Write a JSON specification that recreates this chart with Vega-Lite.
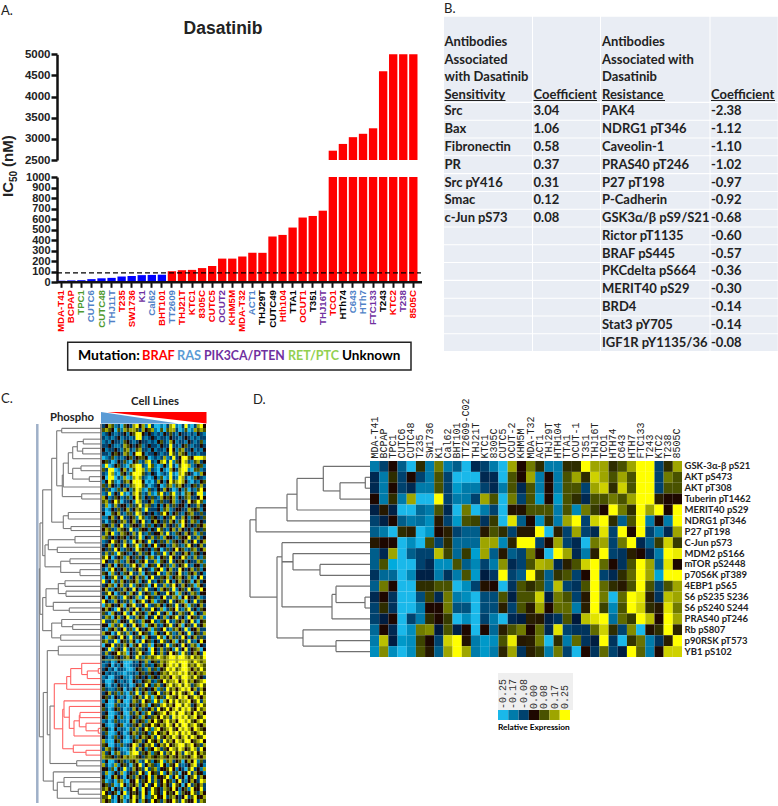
{"$schema":"https://vega.github.io/schema/vega-lite/v6.json","width":778,"height":806,"autosize":"none","padding":0,"background":"white","config":{"view":{"stroke":null},"axis":{"disable":true,"grid":false,"title":null},"legend":{"disable":true},"text":{"font":"Lato","fontSize":13,"fontWeight":"bold","color":"#222222"}},"resolve":{"scale":{"x":"independent","y":"independent","color":"independent"},"axis":{"x":"independent","y":"independent"}},
"data":{"values":[{}]},
"datasets":{
"bars":[{"line":"MDA-T41","mut":"BRAF","ic50":15},{"line":"BCPAP","mut":"BRAF","ic50":18},{"line":"TPC1","mut":"RET/PTC","ic50":20},{"line":"CUTC6","mut":"RAS","ic50":30},{"line":"CUTC48","mut":"RET/PTC","ic50":38},{"line":"THJ11T","mut":"RAS","ic50":42},{"line":"T235","mut":"BRAF","ic50":55},{"line":"SW1736","mut":"BRAF","ic50":60},{"line":"K1","mut":"PIK3CA/PTEN","ic50":68},{"line":"Cal62","mut":"RAS","ic50":70},{"line":"BHT101","mut":"BRAF","ic50":72},{"line":"TT2609","mut":"RAS","ic50":105},{"line":"THJ21T","mut":"BRAF","ic50":115},{"line":"KTC1","mut":"BRAF","ic50":118},{"line":"8305C","mut":"BRAF","ic50":135},{"line":"CUTC5","mut":"BRAF","ic50":155},{"line":"OCUT2","mut":"PIK3CA/PTEN","ic50":225},{"line":"KHM5M","mut":"BRAF","ic50":225},{"line":"MDA-T32","mut":"BRAF","ic50":245},{"line":"ACT1","mut":"RAS","ic50":280},{"line":"THJ29T","mut":"Unknown","ic50":280},{"line":"CUTC49","mut":"Unknown","ic50":435},{"line":"Hth104","mut":"BRAF","ic50":450},{"line":"TTA1","mut":"Unknown","ic50":520},{"line":"OCUT1","mut":"BRAF","ic50":615},{"line":"T351","mut":"Unknown","ic50":630},{"line":"THJ16T","mut":"PIK3CA/PTEN","ic50":680},{"line":"TCO1","mut":"BRAF","ic50":2720},{"line":"HTh74","mut":"Unknown","ic50":2880},{"line":"C643","mut":"RAS","ic50":3040},{"line":"HTh7","mut":"RAS","ic50":3120},{"line":"FTC133","mut":"PIK3CA/PTEN","ic50":3250},{"line":"T243","mut":"Unknown","ic50":4600},{"line":"KTC2","mut":"BRAF","ic50":5000},{"line":"T238","mut":"PIK3CA/PTEN","ic50":5000},{"line":"8505C","mut":"BRAF","ic50":5000}],
"table":[{"row":1,"sens":"Src","scoef":"3.04","res":"PAK4","rcoef":"-2.38"},{"row":2,"sens":"Bax","scoef":"1.06","res":"NDRG1 pT346","rcoef":"-1.12"},{"row":3,"sens":"Fibronectin","scoef":"0.58","res":"Caveolin-1","rcoef":"-1.10"},{"row":4,"sens":"PR","scoef":"0.37","res":"PRAS40 pT246","rcoef":"-1.02"},{"row":5,"sens":"Src pY416","scoef":"0.31","res":"P27 pT198","rcoef":"-0.97"},{"row":6,"sens":"Smac","scoef":"0.12","res":"P-Cadherin","rcoef":"-0.92"},{"row":7,"sens":"c-Jun pS73","scoef":"0.08","res":"GSK3α/β pS9/S21","rcoef":"-0.68"},{"row":8,"sens":"","scoef":"","res":"Rictor pT1135","rcoef":"-0.60"},{"row":9,"sens":"","scoef":"","res":"BRAF pS445","rcoef":"-0.57"},{"row":10,"sens":"","scoef":"","res":"PKCdelta pS664","rcoef":"-0.36"},{"row":11,"sens":"","scoef":"","res":"MERIT40 pS29","rcoef":"-0.30"},{"row":12,"sens":"","scoef":"","res":"BRD4","rcoef":"-0.14"},{"row":13,"sens":"","scoef":"","res":"Stat3 pY705","rcoef":"-0.14"},{"row":14,"sens":"","scoef":"","res":"IGF1R pY1135/36","rcoef":"-0.08"}],
"nodesD":[{"d":4.7,"a":1.5,"b":2.5,"l":0,"r":0},{"d":30,"a":2,"b":3.5,"l":4.7,"r":0},{"d":46.7,"a":0.5,"b":2.75,"l":0,"r":30},{"d":73,"a":1.6,"b":4.5,"l":46.7,"r":0},{"d":83,"a":3.05,"b":5.5,"l":73,"r":0},{"d":114,"a":4.3,"b":6.5,"l":83,"r":0},{"d":50,"a":9.5,"b":10.5,"l":0,"r":0},{"d":77,"a":8.5,"b":10,"l":0,"r":50},{"d":5,"a":12.5,"b":13.5,"l":0,"r":0},{"d":34,"a":11.5,"b":13,"l":0,"r":5},{"d":38,"a":12.25,"b":14.5,"l":34,"r":0},{"d":88,"a":7.5,"b":13.4,"l":0,"r":38},{"d":88,"a":9.25,"b":9.25,"l":77,"r":77},{"d":34,"a":16.5,"b":17.5,"l":0,"r":0},{"d":67,"a":15.5,"b":17,"l":0,"r":34},{"d":93,"a":8.8,"b":16.25,"l":88,"r":67},{"d":120,"a":5.4,"b":12.5,"l":114,"r":93}],
"nodesC":[{"d":39.3,"a":1.1,"b":2.2,"l":0,"r":0,"k":"g"},{"d":17.7,"a":3.8,"b":5,"l":0,"r":0,"k":"g"},{"d":18.3,"a":6.1,"b":7.5,"l":0,"r":0,"k":"g"},{"d":23.7,"a":4.4,"b":6.8,"l":17.7,"r":18.3,"k":"g"},{"d":28.3,"a":5.7,"b":8.7,"l":23.7,"r":0,"k":"g"},{"d":20,"a":10.5,"b":11.7,"l":0,"r":0,"k":"g"},{"d":11.7,"a":13.2,"b":14.4,"l":0,"r":0,"k":"g"},{"d":28.3,"a":11.1,"b":13.8,"l":20,"r":11.7,"k":"g"},{"d":32.7,"a":7.2,"b":12.4,"l":28.3,"r":28.3,"k":"g"},{"d":37.7,"a":9.8,"b":15.8,"l":32.7,"r":0,"k":"g"},{"d":19.3,"a":17.5,"b":18.8,"l":0,"r":0,"k":"g"},{"d":38.7,"a":12.8,"b":18.2,"l":37.7,"r":19.3,"k":"g"},{"d":44.3,"a":1.7,"b":15.5,"l":39.3,"r":38.7,"k":"g"},{"d":32.7,"a":22.2,"b":23.8,"l":0,"r":0,"k":"g"},{"d":30,"a":25.7,"b":26.7,"l":0,"r":0,"k":"g"},{"d":37.7,"a":23,"b":26.2,"l":32.7,"r":30,"k":"g"},{"d":49.3,"a":8.6,"b":24.6,"l":44.3,"r":37.7,"k":"g"},{"d":26,"a":28.2,"b":29.8,"l":0,"r":0,"k":"g"},{"d":43.7,"a":30.9,"b":32.2,"l":0,"r":0,"k":"g"},{"d":52.7,"a":29,"b":31.5,"l":26,"r":43.7,"k":"g"},{"d":31,"a":33.8,"b":35,"l":0,"r":0,"k":"g"},{"d":21,"a":36.5,"b":38,"l":0,"r":0,"k":"g"},{"d":40.3,"a":34.4,"b":37.2,"l":31,"r":21,"k":"g"},{"d":56,"a":30.3,"b":35.8,"l":52.7,"r":40.3,"k":"g"},{"d":58.3,"a":16.5,"b":33,"l":49.3,"r":56,"k":"g"},{"d":36,"a":39.3,"b":40.7,"l":0,"r":0,"k":"g"},{"d":35,"a":41.9,"b":43.2,"l":0,"r":0,"k":"g"},{"d":42.7,"a":40,"b":42.5,"l":36,"r":35,"k":"g"},{"d":31.7,"a":46.1,"b":47.2,"l":0,"r":0,"k":"g"},{"d":47.7,"a":44.7,"b":46.7,"l":0,"r":31.7,"k":"g"},{"d":55,"a":41.3,"b":45.7,"l":42.7,"r":47.7,"k":"g"},{"d":28.3,"a":50.3,"b":51.5,"l":0,"r":0,"k":"g"},{"d":39.3,"a":49,"b":50.8,"l":0,"r":28.3,"k":"g"},{"d":40.3,"a":52.9,"b":54.2,"l":0,"r":0,"k":"g"},{"d":49.3,"a":49.9,"b":53.6,"l":39.3,"r":40.3,"k":"g"},{"d":58.3,"a":43.5,"b":51.8,"l":55,"r":49.3,"k":"g"},{"d":61,"a":24.8,"b":47.7,"l":58.3,"r":58.3,"k":"g"},{"d":42.7,"a":55.7,"b":57.9,"l":0,"r":0,"k":"g"},{"d":2.7,"a":61.3,"b":62.5,"l":0,"r":0,"k":"r"},{"d":13.7,"a":61.9,"b":63.8,"l":2.7,"r":0,"k":"r"},{"d":19.3,"a":60,"b":62.8,"l":0,"r":13.7,"k":"r"},{"d":30.3,"a":61.3,"b":65.3,"l":19.3,"r":0,"k":"r"},{"d":34.3,"a":63.3,"b":66.5,"l":30.3,"r":0,"k":"r"},{"d":21,"a":72.3,"b":73.6,"l":0,"r":0,"k":"r"},{"d":2.7,"a":76.3,"b":77.5,"l":0,"r":0,"k":"r"},{"d":15,"a":75,"b":76.9,"l":0,"r":2.7,"k":"r"},{"d":21.7,"a":73,"b":75.9,"l":21,"r":15,"k":"r"},{"d":27,"a":74.4,"b":78.2,"l":21.7,"r":0,"k":"r"},{"d":31.7,"a":70.8,"b":76.3,"l":0,"r":27,"k":"r"},{"d":37,"a":69.4,"b":73.5,"l":0,"r":31.7,"k":"r"},{"d":15,"a":81.8,"b":83,"l":0,"r":0,"k":"r"},{"d":27.7,"a":80.5,"b":82.3,"l":0,"r":15,"k":"r"},{"d":38.3,"a":71.5,"b":81.4,"l":37,"r":27.7,"k":"r"},{"d":46.7,"a":65.1,"b":76.4,"l":34.3,"r":38.3,"k":"r"},{"d":24.3,"a":84.4,"b":85.7,"l":0,"r":0,"k":"g"},{"d":51,"a":70.7,"b":85.1,"l":46.7,"r":24.3,"k":"g"},{"d":53.7,"a":56.8,"b":77.9,"l":42.7,"r":51,"k":"g"},{"d":22.7,"a":91.5,"b":92.8,"l":0,"r":0,"k":"g"},{"d":30.3,"a":89.7,"b":92.1,"l":0,"r":22.7,"k":"g"},{"d":37,"a":88.6,"b":90.9,"l":0,"r":30.3,"k":"g"},{"d":43.7,"a":89.8,"b":93.8,"l":37,"r":0,"k":"g"},{"d":47.7,"a":87.2,"b":91.8,"l":0,"r":43.7,"k":"g"},{"d":57.7,"a":67.3,"b":89.5,"l":53.7,"r":47.7,"k":"g"},{"d":61.7,"a":36.3,"b":78.4,"l":61,"r":57.7,"k":"g"}],
"heatD":[
{"r":"GSK-3α-β pS21","v":[-2,-1,0,-1.5,-3,0.5,-2,1.5,-2,-1.5,-3,-0.5,-1,-2,-3,2,0,1.5,0.5,-2,-2,0.5,0.5,3,2,2,0.5,1,2,3,3,-1,0.5,2]},
{"r":"AKT pS473","v":[-0.5,-2,0.5,-1,0,-1,-2,1,-1,-3,-3,-3,-0.5,-0.5,-3,1,0,2,-2,0,-2,1,2,0.5,2.5,2,1,2,1,3,3,-1,1.5,1]},
{"r":"AKT pT308","v":[-0.5,-2,0,-1,-0.5,-2,-2,1,-1,-2.5,-2,-2,-1,-0.5,-2,1,-0.5,1,-2,0,-2,1,1,-1,2,2.5,0.5,2.5,1,3,3,-1,1,1]},
{"r":"Tuberin pT1462","v":[0,-2,0.5,-2,2,-3,-3,3,-1,-2,-2,-1,2,1,-3,1.5,-1,1,-2.5,0,-2.5,1,0.5,-0.5,1,1,1.5,1,2,3,3,0.3,0,0]},
{"r":"MERIT40 pS29","v":[-0.3,0.2,-0.3,-3,-3,-1.7,-2,1,-0.5,-3,1.5,-3,-2,-1,-3,0.1,0.1,1,1,1,-2,1,-2.2,1.5,0.7,0,3,1.5,0.5,3,2,3,0,3]},
{"r":"NDRG1 pT346","v":[-1,-0.3,0,-1.5,-2,-1.8,-2.3,0.2,-1,-2.5,1,0.8,-0.7,0.7,-3,2.7,-1.5,0,-2.3,0.5,-2,2,3,-1,2.5,3,0.5,-1.5,1,3,-2,0,-2,3]},
{"r":"P27 pT198","v":[-1.5,-2,-3,0.5,0.3,-3,-2.5,0,0.3,-1,-1.5,-1.5,0.2,1,0.5,-1,0.2,0.2,3,-3,0.3,-1,2,-1,-0.5,2.7,-1,3,0,3,-1,-2,-0.5,2]},
{"r":"C-Jun pS73","v":[0.2,0,0,-3,-2.3,-3,0.9,-1,0.5,-1.7,-1.7,-1.7,2,2,-2.2,0.4,3,3,-1,0,2,-1,-0.5,-3,1.5,2,-1,1.5,3,-0.5,-1.5,0.7,2.5,0.7]},
{"r":"MDM2 pS166","v":[-1.5,-0.5,2,-3,-1.5,-1,-1,2.3,0.8,-1.7,0.7,-2.6,2,-1.5,0.2,-1.5,-1,1.5,0,-3,3,2,-0.5,-2,0.3,3,-1,-0.7,0.3,0,-0.5,-2,3,2.8]},
{"r":"mTOR pS2448","v":[-1.5,1,-2.8,-3,-3,-1,-0.5,-2.3,-2.3,1,-1.5,-2.2,-1,-2,1.8,-0.5,-1,1,2.2,2,-0.5,0.3,1,2.5,3,1.3,0,-0.7,1,3,2,-1.5,2.7,0]},
{"r":"p70S6K pT389","v":[-0.7,-1.7,-1.7,-3,-2.2,-0.3,-0.3,-2,-0.7,-2,1,-2.5,-0.2,-0.8,3,-1,-1.5,3,0.8,-1.5,0.6,1,-1,0,3,-1,-0.5,0.5,1.3,3,2,-2.7,3,3]},
{"r":"4EBP1 pS65","v":[-1.5,1.5,0,-3,-3,0.5,0.5,1,1,-3,-2.3,-1,0.1,0,-3,-0.7,1,0.5,1,-1.5,2.3,-1,-0.7,1,3,1.3,0.5,0.2,1,3,1,-1,1,2]},
{"r":"S6 pS235 S236","v":[-0.5,0,-0.7,-3,-3,-1.2,0.8,-0.5,1.5,-2,-2.3,-3,-1.2,-1.2,1,-0.3,1,1,2.5,-0.2,1.5,1,-1,0.2,3,1.5,-3,1.3,3,2.7,0.3,-0.7,2.3,2]},
{"r":"S6 pS240 S244","v":[-1,0.5,-0.7,-3,-3,-2,0,0,1.5,-1.3,-1.3,-3,-1.2,-1.2,0.3,-1,1,0.2,2,0,1.3,1.3,-2,0.3,3,0.8,-2.2,1,3,2.5,0.5,0.2,2.7,1.5]},
{"r":"PRAS40 pT246","v":[-1,-0.2,0,-3,-1,-2,0.5,0,0.7,-3,-2.3,-3,-1,-2,-3,-0.5,-0.2,0.3,0.2,-0.3,-0.7,1,-0.1,2.3,2.7,3,-1.8,1.3,0.7,3,2.3,0,3,2]},
{"r":"Rb pS807","v":[-1.7,0,-0.5,-3,-2.3,1.5,1.7,-0.1,1,-0.3,0,-3,0,-1.7,0.3,1,1.5,0,1.3,-0.5,2.7,-1,-0.7,-0.7,1.3,2.5,0.5,-1,1.7,-3,0.1,0.5,3,0.4]},
{"r":"p90RSK pT573","v":[-2,2.3,-0.2,-2.5,-2.3,0.8,0,-1,2.5,3,0.1,-2,-2.5,-2.3,1,2.8,0.2,0.3,1.5,-3,0.5,-2,1.3,-0.7,-0.2,3,-0.7,-3,0.6,1.4,-2,-0.7,0.3,3]},
{"r":"YB1 pS102","v":[-2.3,1.7,-2.3,-3,-2.3,1,0.2,-1.5,2,3,2,-2,-2.5,-2,0.4,2,-0.7,0.3,0.7,-2,1.5,-1,-3,0,-0.7,1.3,-1,-0.2,3,1.2,-2,0,2.5,2.5]}],
"heatC":[
{"r":1,"v":[-1,0,2,1,-2,-1,-3,1,0,-1,2,3,0,2,-2,3,-1,-3,-3,-2,-3,-1,2,3,-2,-3,-1,3,-2,-3,-1,2,3,0]},
{"r":2,"v":[1,2,1,0,-3,1,-2,2,1,2,2,1,-1,2,0,1,2,-2,-3,1,-3,1,2,2,-1,-3,-2,1,-3,-2,2,1,2,1]},
{"r":3,"v":[-2,-1,0,-1,-2,-1,-1,0,-2,0,1,3,3,0,-1,0,-1,-2,-1,-2,0,-1,1,-1,-2,0,-1,-1,-2,-1,-2,0,-1,-2]},
{"r":4,"v":[-1,-2,-1,-2,-1,0,-2,-1,-1,-2,-1,3,3,-1,-2,-1,0,-1,-2,-1,-1,-2,0,-1,-1,-2,-1,0,-1,-2,-1,-2,-1,-1]},
{"r":5,"v":[-2,-1,-2,0,-1,-1,-2,1,0,-1,-2,-1,0,-1,-1,-2,-1,-2,0,1,-1,-2,2,0,-2,-1,-1,-2,0,-1,-2,-1,1,-2]},
{"r":6,"v":[-1,-1,0,-1,-2,-2,-1,2,1,0,-1,0,1,-2,-1,0,-1,-1,-2,0,-1,-1,3,-1,-1,-2,0,1,-1,-2,-1,-1,0,-1]},
{"r":7,"v":[0,-2,-1,-1,0,-1,-2,1,2,-1,-2,1,2,-1,-1,-2,0,-2,-1,-1,-2,0,3,0,-2,1,2,-1,-1,0,-2,-1,-2,0]},
{"r":8,"v":[-1,-1,-2,0,1,0,-1,2,1,-2,0,3,3,0,-2,-1,-1,0,-1,-2,-1,-1,3,1,-1,2,1,0,-2,-1,-1,-2,-1,-1]},
{"r":9,"v":[-3,-2,-1,1,-2,-1,-2,-1,0,1,-1,0,1,1,0,-3,-2,-1,-2,-1,2,-2,-1,3,-1,0,3,3,1,0,3,3,3,2]},
{"r":10,"v":[0,1,-1,-3,-2,0,-1,1,-2,-3,0,1,-2,-1,2,3,-1,-2,0,2,3,-1,3,-2,1,0,3,2,-1,-2,1,2,-1,0]},
{"r":11,"v":[-2,3,-3,-2,0,1,-1,-2,-3,1,2,3,3,-1,-2,3,1,-2,-3,-2,0,-2,3,-1,-3,1,3,3,2,-2,-1,0,1,-2]},
{"r":12,"v":[1,-1,3,3,-3,-2,0,2,-1,-3,1,3,3,2,-2,2,-1,-2,-3,0,-2,-3,2,0,-1,2,3,3,-2,-3,1,1,-2,-1]},
{"r":13,"v":[-1,-2,3,2,-2,-3,1,0,-2,1,3,3,3,1,-1,-2,0,-1,-3,-2,-1,-2,3,-2,-3,2,3,1,0,-1,-3,-2,2,0]},
{"r":14,"v":[0,-3,3,3,-3,-1,-2,2,-3,-2,2,3,2,-1,-2,-3,-2,0,-2,1,-3,-2,3,-1,-2,3,2,-1,-3,-2,1,0,-1,-2]},
{"r":15,"v":[-2,0,3,1,-2,-3,-1,1,2,0,3,3,3,0,-3,-2,-3,-1,2,0,-2,0,3,1,2,3,2,0,-2,-3,-1,-2,0,1]},
{"r":16,"v":[1,-1,2,0,-1,-2,0,-1,-2,1,2,3,3,1,-1,-3,-2,-1,0,-3,-2,1,2,-2,1,2,0,-1,-2,0,1,-1,2,-1]},
{"r":17,"v":[-1,1,-1,-3,-2,1,-1,2,0,-2,1,3,2,-2,-3,1,-1,-2,0,-1,2,0,-1,-3,-2,0,-2,1,-3,-1,-2,1,3,0]},
{"r":18,"v":[-2,-1,3,-2,0,-1,3,-2,-3,-1,2,3,1,-2,-1,2,-2,-3,1,3,-1,-2,1,3,-2,-1,-3,1,2,0,-1,3,3,-2]},
{"r":19,"v":[2,0,-2,-1,1,0,-2,-1,1,-2,0,3,1,-2,0,-1,1,-1,-2,2,0,1,0,2,-2,0,-1,1,2,-1,-1,0,3,0]},
{"r":20,"v":[1,2,-1,0,3,1,-3,-1,-1,0,-2,3,2,-1,-1,0,2,-2,-1,1,-1,-1,0,2,-2,-1,0,-1,3,0,1,3,1,-2]},
{"r":21,"v":[-1,2,-3,-1,2,-1,0,0,-2,1,-1,1,3,-1,2,1,-1,-2,0,-2,0,2,-1,1,-1,0,0,-2,0,-1,-1,2,-1,0]},
{"r":22,"v":[-1,-3,-2,0,-1,1,-1,0,2,-1,0,2,1,-2,3,-1,-1,-1,0,-2,1,2,-2,-1,0,0,-1,-1,2,1,0,1,-2,0]},
{"r":23,"v":[0,-3,-3,1,0,2,-1,-2,1,1,-1,3,2,-1,0,-1,0,-2,-1,1,3,0,-2,0,1,-1,-2,0,1,2,-1,-1,1,-1]},
{"r":24,"v":[-2,-2,0,2,-1,0,3,-1,-1,0,1,-2,3,1,-2,-1,1,0,-1,-2,0,-1,1,3,-1,-1,2,0,-2,1,0,0,-1,1]},
{"r":25,"v":[-1,-3,-1,1,0,-1,1,2,-1,0,2,-1,0,3,-1,-2,0,2,0,-1,1,-1,2,0,-2,1,3,0,-1,2,1,-2,0,-1]},
{"r":26,"v":[1,0,-1,2,-1,0,3,-1,-2,1,0,0,-1,2,-1,1,-2,0,-1,0,2,-1,0,-1,1,-2,3,0,-1,0,-1,1,0,2]},
{"r":27,"v":[0,2,1,-1,-2,2,1,0,-1,3,-1,-2,1,0,0,-2,0,-1,3,1,-1,-2,0,2,-1,2,0,-1,0,-2,1,0,-1,1]},
{"r":28,"v":[-1,2,0,3,-2,-1,2,1,0,-1,2,-1,3,-1,-2,1,-1,0,0,2,-1,3,-1,-2,1,0,-1,2,0,-1,2,-2,1,-1]},
{"r":29,"v":[2,1,-1,0,-1,0,1,0,-2,0,1,-1,3,-2,0,-1,2,-1,1,-2,2,0,0,-1,-2,1,0,0,3,-1,-1,2,-1,0]},
{"r":30,"v":[-2,-1,0,3,1,0,-1,2,-1,-2,3,0,2,0,-1,3,-2,0,-1,1,-1,2,-2,1,0,-1,0,2,-1,0,3,-1,0,2]},
{"r":31,"v":[-1,0,2,-2,0,1,-1,3,0,-1,1,3,-2,1,0,-2,0,3,-1,0,0,-2,-1,2,1,-1,-2,1,3,0,-1,0,2,-1]},
{"r":32,"v":[0,-1,1,-1,3,0,-2,-1,1,0,-1,3,1,0,-1,0,-2,1,0,-3,-1,1,-1,0,3,0,1,-2,-1,1,2,-1,0,2]},
{"r":33,"v":[-1,2,-1,1,-2,3,1,0,-1,-2,0,-1,2,-1,1,0,-3,-1,1,-1,3,-2,0,2,-1,-1,0,2,0,-2,1,0,-1,0]},
{"r":34,"v":[1,3,0,-3,-1,0,1,-2,2,0,-1,1,-1,0,-3,1,2,-1,-3,0,1,-1,3,0,-1,0,3,1,-2,-1,2,-1,-2,1]},
{"r":35,"v":[3,0,-1,-1,2,1,-2,-1,2,0,0,-2,1,0,3,-1,-1,2,-3,1,0,-1,3,-1,0,1,0,-2,0,-1,-1,2,1,-2]},
{"r":36,"v":[0,-1,2,0,-3,0,1,-1,-2,1,3,0,-1,2,-3,0,1,-1,3,0,-1,1,-2,2,-1,0,1,3,-1,-2,0,0,-2,1]},
{"r":37,"v":[-1,-3,1,3,0,-1,0,2,-1,-2,1,0,3,-1,0,-1,-3,1,0,3,-2,0,2,-1,-1,3,0,-1,0,2,-1,1,-2,0]},
{"r":38,"v":[1,0,-3,2,-1,0,-2,1,0,3,-1,-1,2,-3,0,1,-1,0,3,-1,-2,2,1,-1,0,3,-1,-2,1,0,2,-1,0,-2]},
{"r":39,"v":[-3,0,-1,1,3,-1,0,-3,2,-1,0,2,-1,1,-3,0,3,-1,-1,1,0,2,-2,0,1,2,0,-1,2,-1,-3,0,3,-1]},
{"r":40,"v":[3,-1,0,-3,1,-1,2,0,-1,1,0,2,-2,0,-1,3,-1,-2,0,1,-1,3,0,-2,0,2,-1,0,1,-3,0,2,-1,0]},
{"r":41,"v":[-1,0,2,1,-3,0,2,-1,-1,3,-2,1,0,-1,1,-3,0,3,-1,-1,2,-2,1,3,0,-1,2,0,-1,1,-3,2,0,-1]},
{"r":42,"v":[0,2,-1,-2,0,1,-1,2,0,-1,3,0,-2,1,3,-1,-1,0,-2,2,0,1,-1,3,-2,0,1,-1,3,0,-1,-2,3,0]},
{"r":43,"v":[-1,1,3,0,-3,-1,1,0,-2,2,0,-1,3,-1,0,1,-2,2,0,-1,-1,3,0,1,-3,2,-1,0,-1,2,1,-2,0,0]},
{"r":44,"v":[0,-3,0,2,1,-1,-2,3,1,0,-1,2,-3,-1,3,0,1,-1,-2,0,3,-1,-1,2,1,-3,0,3,0,-1,0,2,-2,-1]},
{"r":45,"v":[3,0,-1,-2,2,0,-1,1,-1,2,-3,0,1,3,-1,0,2,-3,-1,1,0,-1,3,-1,0,1,2,-3,0,-1,3,-1,1,0]},
{"r":46,"v":[-3,1,2,0,-1,0,2,-3,0,1,3,-1,-1,0,3,-2,-1,1,2,0,-2,0,1,-1,3,-1,0,2,-3,1,-1,0,2,-1]},
{"r":47,"v":[0,2,0,-1,-3,3,0,-1,2,-1,0,3,0,-2,1,-1,3,0,-1,2,-3,-1,1,0,3,-1,-2,1,3,-1,0,-2,1,0]},
{"r":48,"v":[1,-1,-3,2,0,-1,0,3,-2,0,3,-1,1,0,-2,2,0,-1,3,-1,0,2,-3,0,-1,2,1,-1,0,3,-2,0,-1,2]},
{"r":49,"v":[-1,2,1,-3,0,2,-1,0,3,-2,-1,2,0,1,-3,0,-1,3,0,-1,2,-2,0,1,3,-1,0,-2,3,0,1,-1,2,-2]},
{"r":50,"v":[3,-1,-1,1,2,-2,0,0,-1,3,1,-1,-2,2,0,0,3,-1,-2,1,0,3,-1,-2,1,0,2,-1,0,3,-1,-3,0,1]},
{"r":51,"v":[0,0,-3,2,-1,1,3,-2,0,-1,3,0,-1,2,-3,1,0,2,-1,-2,0,1,3,-1,0,2,-3,0,1,-1,3,-1,0,2]},
{"r":52,"v":[-1,-3,1,0,2,-1,0,3,-1,1,-2,3,0,-1,0,2,-3,1,-1,0,3,-1,-2,1,2,0,-1,3,-2,0,0,2,-1,-1]},
{"r":53,"v":[2,0,0,-3,-1,3,1,-1,2,-2,0,-1,3,0,1,-1,-3,2,0,-1,0,3,1,-2,-1,2,0,-1,3,-2,0,1,-1,2]},
{"r":54,"v":[-1,-3,2,1,0,-1,3,0,-2,3,-1,1,0,-3,2,0,-1,-1,3,1,-3,0,2,-1,1,-1,3,0,-2,0,2,-1,1,-1]},
{"r":55,"v":[1,2,-1,-1,3,-3,0,1,-1,2,0,-3,-1,3,0,1,-2,0,-1,3,1,-1,0,2,-3,0,1,-1,3,-1,-2,0,3,0]},
{"r":56,"v":[-3,0,0,3,-1,1,-1,2,0,-3,1,0,3,-1,-1,2,-3,0,1,0,-1,3,-2,1,0,-1,3,0,-1,2,1,-3,0,-1]},
{"r":57,"v":[0,-1,3,-3,1,0,-1,3,-2,0,-1,2,1,-1,0,-3,3,0,-1,2,-1,1,0,-2,3,-1,0,3,-1,0,1,2,-3,0]},
{"r":58,"v":[-1,2,-1,0,0,3,1,2,-3,0,-1,1,3,0,-1,-2,3,0,-1,2,-1,0,3,0,1,-2,3,1,-1,0,2,0,-1,3]},
{"r":59,"v":[0,-1,-2,-1,1,0,-1,1,2,0,-1,3,1,-2,1,2,1,2,3,2,1,2,3,3,2,3,3,2,1,3,1,2,1,3]},
{"r":60,"v":[-1,-2,-1,-3,-2,0,-1,-3,-3,-3,-1,-2,0,-1,2,-2,0,1,-1,2,1,2,3,3,2,3,3,3,2,1,3,2,1,2]},
{"r":61,"v":[-2,-1,0,-3,-1,-2,0,-3,-3,-2,-1,-1,0,-2,1,-1,-2,0,1,2,0,2,3,2,3,1,3,3,1,2,1,3,2,1]},
{"r":62,"v":[-1,0,-2,-1,-3,-1,-1,-2,-3,-3,-2,0,1,-1,-2,2,-1,1,-2,0,1,3,2,3,1,2,3,3,2,0,2,1,3,1]},
{"r":63,"v":[0,-2,-1,-2,-1,-2,-2,-3,-2,-2,-1,-2,0,1,-1,1,0,-1,0,1,2,1,3,2,2,3,2,3,1,2,0,2,1,2]},
{"r":64,"v":[-2,-1,-3,-3,-1,-1,0,-2,-2,-3,-1,1,0,-1,0,-2,1,0,-1,2,1,2,0,3,2,1,3,3,2,1,3,1,0,-1]},
{"r":65,"v":[-1,-3,-3,-2,0,-1,-2,-1,-2,-3,0,-1,-2,0,1,2,-1,-2,1,0,3,1,2,2,3,0,2,3,1,2,0,1,2,3]},
{"r":66,"v":[0,-2,-3,-1,-2,0,-1,-2,-1,-3,-2,0,1,-1,3,0,-2,1,2,-1,0,2,3,1,2,3,1,3,2,-1,1,2,3,1]},
{"r":67,"v":[1,-1,-2,-2,-1,1,0,-3,-1,-2,0,2,-1,1,0,-1,0,2,-2,1,-1,3,1,2,0,2,3,2,3,0,2,-1,2,0]},
{"r":68,"v":[-1,0,2,-1,1,-2,1,-2,-3,1,-1,3,-2,0,2,-2,1,0,3,-1,1,2,0,3,1,3,1,0,2,3,-1,0,3,1]},
{"r":69,"v":[0,1,-1,-3,0,-1,-2,-1,-3,-2,1,0,2,-1,3,1,-3,2,0,1,-1,3,2,1,0,3,2,3,0,1,3,2,0,2]},
{"r":70,"v":[-2,0,-3,-3,-1,2,0,-3,-3,-1,2,1,-1,3,0,1,-2,3,1,-3,2,0,3,1,3,1,2,2,3,0,1,3,-1,2]},
{"r":71,"v":[0,-2,-3,-3,1,-1,-2,-2,-3,0,1,-1,0,2,1,-3,0,1,-1,2,3,1,2,0,3,3,1,3,2,-1,0,2,3,1]},
{"r":72,"v":[1,-1,-3,-2,0,1,-1,-3,-2,-1,2,0,-2,1,-1,0,2,-1,3,0,1,3,0,2,3,1,3,2,3,1,0,3,1,2]},
{"r":73,"v":[-1,0,-3,-3,-2,-1,0,-3,-3,1,-1,2,0,-2,1,3,-1,0,1,2,3,0,2,3,1,3,3,1,2,0,3,1,2,0]},
{"r":74,"v":[0,1,-3,-3,0,-2,1,-2,-3,-1,0,1,-2,2,0,-1,1,2,0,3,1,2,-1,3,2,3,2,3,1,2,3,0,1,3]},
{"r":75,"v":[-2,-1,-3,-2,1,-1,-2,-2,-3,0,2,-1,0,1,-2,2,0,3,1,0,2,3,1,2,0,3,3,2,3,1,0,2,3,1]},
{"r":76,"v":[0,-2,-3,-3,-1,0,1,-3,-2,-1,1,0,2,-1,1,0,3,1,0,2,1,3,2,0,3,1,3,3,1,2,3,1,0,2]},
{"r":77,"v":[1,0,-2,-3,0,-2,-1,-2,-3,1,-1,2,-1,0,3,1,-2,2,3,0,1,2,3,1,0,3,2,3,2,0,3,2,1,0]},
{"r":78,"v":[-1,1,-3,-3,-2,0,-1,-3,-2,0,2,1,-1,1,0,-2,1,3,0,1,2,0,3,2,3,1,3,2,3,1,0,2,3,1]},
{"r":79,"v":[0,-1,-3,-2,1,-1,0,-2,-3,-1,1,-2,0,2,1,0,2,-1,3,1,0,2,1,3,2,0,2,3,1,3,2,0,1,3]},
{"r":80,"v":[2,-2,-3,-3,0,1,-1,-3,-3,-2,0,1,2,-1,0,3,1,0,2,-1,3,1,2,0,3,2,1,3,3,0,1,2,3,0]},
{"r":81,"v":[1,0,-3,-3,-1,-2,1,-2,-1,0,3,2,-1,0,2,1,3,-1,0,2,1,3,0,1,2,3,3,1,2,3,0,1,-1,2]},
{"r":82,"v":[-1,2,1,-2,0,-1,-2,-3,-2,1,3,-1,2,0,-2,1,0,3,2,-1,1,0,3,2,1,3,2,0,1,3,2,-1,3,0]},
{"r":83,"v":[2,-1,0,-3,1,2,-1,-2,-3,2,3,3,-1,1,0,2,-2,1,0,3,-1,2,1,3,0,2,-1,3,2,1,3,0,2,1]},
{"r":84,"v":[2,1,1,0,-1,1,0,2,1,2,2,1,0,-1,1,2,1,0,1,2,1,0,2,1,0,2,1,1,0,2,3,1,0,2]},
{"r":85,"v":[-2,0,-3,-3,-1,0,1,-1,-2,1,0,2,-2,-1,3,1,-2,0,1,3,-2,1,2,-1,0,1,-3,0,2,0,3,-2,1,-1]},
{"r":86,"v":[2,-1,-3,-2,2,-2,0,1,-1,-3,1,0,3,-2,0,2,1,-1,-2,3,0,-2,1,0,3,-1,-2,-1,0,2,3,-1,0,-2]},
{"r":87,"v":[0,0,-2,1,-3,0,-1,3,-2,-1,2,0,1,-1,3,-1,1,2,-2,0,0,1,3,0,-2,0,-1,-3,1,3,-1,0,-2,2]},
{"r":88,"v":[-1,2,-3,-2,0,-1,2,-3,-1,0,1,-1,3,0,-2,3,0,1,-1,3,-2,0,2,-1,1,-3,0,0,3,-1,2,0,0,-2]},
{"r":89,"v":[0,-2,-3,0,2,0,-1,-3,0,1,-1,2,0,-1,0,3,-1,2,0,0,1,3,-2,0,3,-1,0,-3,0,1,3,-1,2,0]},
{"r":90,"v":[1,-3,-2,-1,-3,1,2,-2,-3,0,0,3,-1,1,0,3,-1,2,-1,0,3,0,1,-2,0,3,-1,-2,0,2,0,-1,3,2]},
{"r":91,"v":[0,1,-1,1,-3,-2,3,0,-2,1,0,2,-2,0,3,-1,0,3,-1,0,2,0,-1,3,1,0,-3,0,3,-1,1,0,2,-1]},
{"r":92,"v":[1,2,0,-3,0,-1,1,-3,-1,0,3,0,-2,3,0,-1,3,1,0,-1,2,1,0,3,0,-2,0,1,-2,3,0,0,3,-1]},
{"r":93,"v":[3,0,-1,0,1,-3,0,3,-2,0,1,0,-1,3,0,-2,3,1,0,-1,3,0,1,0,3,-2,1,0,0,3,1,-1,2,0]},
{"r":94,"v":[1,1,3,-1,-3,0,2,-2,-3,0,3,1,-1,3,-1,-2,1,3,0,0,3,-1,1,2,0,-1,0,3,-1,1,3,0,0,2]},
{"r":95,"v":[2,0,1,-2,-3,0,1,-3,-1,1,3,0,-2,2,0,-1,3,0,1,-1,2,0,0,3,1,-1,3,1,0,0,3,-1,2,1]}]
},
"layer":[
{"mark":{"type":"text","text":"A.","x":1,"y":11,"fontWeight":"normal","fontSize":13,"align":"left"},"encoding":{}},
{"mark":{"type":"text","text":"B.","x":444,"y":9,"fontWeight":"normal","fontSize":13,"align":"left"},"encoding":{}},
{"mark":{"type":"text","text":"C.","x":1,"y":399,"fontWeight":"normal","fontSize":13,"align":"left"},"encoding":{}},
{"mark":{"type":"text","text":"D.","x":253,"y":400,"fontWeight":"normal","fontSize":13,"align":"left"},"encoding":{}},
{"mark":{"type":"text","text":"Dasatinib","x":223,"y":29,"font":"Liberation Sans","fontSize":17.5,"align":"center"},"encoding":{}},
{"mark":{"type":"text","text":"IC","x":13,"y":197,"angle":270,"align":"left","baseline":"alphabetic","font":"Liberation Sans","fontSize":15},"encoding":{}},
{"mark":{"type":"text","text":"50","x":16.5,"y":182,"angle":270,"align":"left","baseline":"alphabetic","font":"Liberation Sans","fontSize":10},"encoding":{}},
{"mark":{"type":"text","text":"(nM)","x":13,"y":167,"angle":270,"align":"left","baseline":"alphabetic","font":"Liberation Sans","fontSize":15},"encoding":{}},
{"data":{"name":"bars"},"transform":[{"filter":"datum.ic50>=2500"}],"mark":{"type":"bar","color":"#ff0000"},
"encoding":{"x":{"field":"line","type":"nominal","sort":null,"scale":{"domain":["MDA-T41","BCPAP","TPC1","CUTC6","CUTC48","THJ11T","T235","SW1736","K1","Cal62","BHT101","TT2609","THJ21T","KTC1","8305C","CUTC5","OCUT2","KHM5M","MDA-T32","ACT1","THJ29T","CUTC49","Hth104","TTA1","OCUT1","T351","THJ16T","TCO1","HTh74","C643","HTh7","FTC133","T243","KTC2","T238","8505C"],"type":"band","range":[55.6,419],"paddingInner":0.17,"paddingOuter":0.15}},
"y":{"field":"ic50","type":"quantitative","scale":{"domain":[2500,5000],"range":[160,54.3],"clamp":true,"nice":false,"zero":false},"axis":{"disable":false,"orient":"left","offset":-57,"values":[2500,3000,3500,4000,4500,5000],"domainWidth":2.5,"domainColor":"#111111","tickWidth":2.5,"tickColor":"#111111","tickSize":6,"labelFont":"Liberation Sans","labelFontWeight":"bold","labelFontSize":11.5,"labelColor":"#222222","labelPadding":1,"format":"d"}}}},
{"data":{"name":"bars"},"mark":{"type":"bar"},"encoding":{"x":{"field":"line","type":"nominal","sort":null,"scale":{"domain":["MDA-T41","BCPAP","TPC1","CUTC6","CUTC48","THJ11T","T235","SW1736","K1","Cal62","BHT101","TT2609","THJ21T","KTC1","8305C","CUTC5","OCUT2","KHM5M","MDA-T32","ACT1","THJ29T","CUTC49","Hth104","TTA1","OCUT1","T351","THJ16T","TCO1","HTh74","C643","HTh7","FTC133","T243","KTC2","T238","8505C"],"type":"band","range":[55.6,419],"paddingInner":0.17,"paddingOuter":0.15},"axis":{"disable":false,"orient":"bottom","offset":-523.7,"labels":false,"domain":false,"tickWidth":2,"tickColor":"#111111","tickSize":5}},
"y":{"field":"ic50","type":"quantitative","scale":{"domain":[0,1000],"range":[282.3,177],"clamp":true,"nice":false},"axis":{"disable":false,"orient":"left","offset":-57,"values":[0,100,200,300,400,500,600,700,800,900,1000],"domainWidth":2.5,"domainColor":"#111111","tickWidth":2.5,"tickColor":"#111111","tickSize":6,"labelFont":"Liberation Sans","labelFontWeight":"bold","labelFontSize":11,"labelColor":"#222222","labelPadding":1,"labelOverlap":false,"format":"d"}},
"color":{"condition":{"test":"datum.ic50<100","value":"#0000ff"},"value":"#ff0000"}}},
{"mark":{"type":"rule","color":"#000000","strokeWidth":1.3,"strokeDash":[5,3]},"encoding":{"y":{"datum":90,"type":"quantitative","scale":{"domain":[0,1000],"range":[282.3,177],"nice":false}},"x":{"value":57},"x2":{"value":421}}},
{"mark":{"type":"rule","color":"#111111","strokeWidth":2.5},"encoding":{"y":{"datum":0,"type":"quantitative","scale":{"domain":[0,1000],"range":[282.3,177],"nice":false}},"x":{"value":57},"x2":{"value":422}}},
{"data":{"name":"bars"},"mark":{"type":"text","angle":270,"align":"right","baseline":"middle","font":"Liberation Sans","fontSize":9.7},"encoding":{"x":{"field":"line","type":"nominal","sort":null,"scale":{"domain":["MDA-T41","BCPAP","TPC1","CUTC6","CUTC48","THJ11T","T235","SW1736","K1","Cal62","BHT101","TT2609","THJ21T","KTC1","8305C","CUTC5","OCUT2","KHM5M","MDA-T32","ACT1","THJ29T","CUTC49","Hth104","TTA1","OCUT1","T351","THJ16T","TCO1","HTh74","C643","HTh7","FTC133","T243","KTC2","T238","8505C"],"type":"band","range":[55.6,419],"paddingInner":0.17,"paddingOuter":0.15}},"y":{"value":290},"text":{"field":"line"},"color":{"field":"mut","type":"nominal","scale":{"domain":["BRAF","RAS","PIK3CA/PTEN","RET/PTC","Unknown"],"range":["#ff0000","#4f81c7","#7030a0","#4f9a2f","#000000"]}}}},
{"mark":{"type":"rect","fill":"white","stroke":"#222222","strokeWidth":1.5,"x":67.7,"x2":411,"y":342.3,"y2":370},"encoding":{}},
{"mark":{"type":"text","text":"Mutation:","x":78,"y":356,"fontSize":14,"align":"left","color":"#000000"},"encoding":{}},
{"mark":{"type":"text","text":"BRAF","x":142,"y":356,"fontSize":12.8,"align":"left","color":"#ff0000"},"encoding":{}},
{"mark":{"type":"text","text":"RAS","x":177,"y":356,"fontSize":12.8,"align":"left","color":"#5b9bd5"},"encoding":{}},
{"mark":{"type":"text","text":"PIK3CA/PTEN","x":204,"y":356,"fontSize":12.3,"align":"left","color":"#7030a0"},"encoding":{}},
{"mark":{"type":"text","text":"RET/PTC","x":288,"y":356,"fontSize":12.5,"align":"left","color":"#92d050"},"encoding":{}},
{"mark":{"type":"text","text":"Unknown","x":342,"y":356,"fontSize":13.5,"align":"left","color":"#000000"},"encoding":{}},
{"mark":{"type":"rect","fill":"#e9edf4","x":444,"x2":532,"y":16.7,"y2":101.7},"encoding":{}},
{"mark":{"type":"rect","fill":"#e9edf4","x":533,"x2":600,"y":16.7,"y2":101.7},"encoding":{}},
{"mark":{"type":"rect","fill":"#e9edf4","x":601,"x2":709.5,"y":16.7,"y2":101.7},"encoding":{}},
{"mark":{"type":"rect","fill":"#e9edf4","x":710.5,"x2":777.7,"y":16.7,"y2":101.7},"encoding":{}},
{"mark":{"type":"text","text":["Antibodies","Associated","with Dasatinib","Sensitivity"],"x":444.5,"y":36,"lineHeight":17.6,"align":"left","baseline":"top"},"encoding":{}},
{"mark":{"type":"text","text":"Coefficient","x":533.5,"y":88.8,"align":"left","baseline":"top"},"encoding":{}},
{"mark":{"type":"text","text":["Antibodies","Associated with","Dasatinib","Resistance"],"x":602,"y":36,"lineHeight":17.6,"align":"left","baseline":"top"},"encoding":{}},
{"mark":{"type":"text","text":"Coefficient","x":711,"y":88.8,"align":"left","baseline":"top"},"encoding":{}},
{"mark":{"type":"rule","color":"#222222","strokeWidth":1},"encoding":{"x":{"value":444.5},"x2":{"value":505.5},"y":{"value":100.5}}},
{"mark":{"type":"rule","color":"#222222","strokeWidth":1},"encoding":{"x":{"value":533.5},"x2":{"value":597},"y":{"value":100.5}}},
{"mark":{"type":"rule","color":"#222222","strokeWidth":1},"encoding":{"x":{"value":602},"x2":{"value":665},"y":{"value":100.5}}},
{"mark":{"type":"rule","color":"#222222","strokeWidth":1},"encoding":{"x":{"value":711},"x2":{"value":775},"y":{"value":100.5}}},
{"data":{"name":"table"},"encoding":{"y":{"field":"row","type":"ordinal","scale":{"type":"band","range":[103,351],"paddingInner":0.06,"paddingOuter":0}}},"layer":[
{"mark":{"type":"rect","fill":"#e9edf4"},"encoding":{"x":{"value":444},"x2":{"value":532}}},
{"mark":{"type":"rect","fill":"#e9edf4"},"encoding":{"x":{"value":533},"x2":{"value":600}}},
{"mark":{"type":"rect","fill":"#e9edf4"},"encoding":{"x":{"value":601},"x2":{"value":709.5}}},
{"mark":{"type":"rect","fill":"#e9edf4"},"encoding":{"x":{"value":710.5},"x2":{"value":777.7}}},
{"mark":{"type":"text","align":"left"},"encoding":{"x":{"value":444.5},"text":{"field":"sens"}}},
{"mark":{"type":"text","align":"left"},"encoding":{"x":{"value":533.5},"text":{"field":"scoef"}}},
{"mark":{"type":"text","align":"left"},"encoding":{"x":{"value":602},"text":{"field":"res"}}},
{"mark":{"type":"text","align":"left"},"encoding":{"x":{"value":711},"text":{"field":"rcoef"}}}
]},
{"mark":{"type":"text","text":"Cell Lines","x":155,"y":402,"fontSize":11.3,"align":"center"},"encoding":{}},
{"mark":{"type":"text","text":"Phospho","x":72,"y":418,"fontSize":11.3,"align":"center"},"encoding":{}},
{"data":{"values":[{"rank":0,"lo":0,"hi":1},{"rank":0.73,"lo":0,"hi":0}]},"mark":{"type":"area","color":"#5b9bd5"},"encoding":{"x":{"field":"rank","type":"quantitative","scale":{"domain":[0,1],"range":[101,206.5]}},"y":{"field":"lo","type":"quantitative","scale":{"domain":[0,1],"range":[423.5,412]}},"y2":{"field":"hi"}}},
{"data":{"values":[{"rank":0.06,"lo":1,"hi":1},{"rank":1,"lo":0,"hi":1}]},"mark":{"type":"area","color":"#ff0000"},"encoding":{"x":{"field":"rank","type":"quantitative","scale":{"domain":[0,1],"range":[101,206.5]}},"y":{"field":"lo","type":"quantitative","scale":{"domain":[0,1],"range":[423.5,412]}},"y2":{"field":"hi"}}},
{"data":{"name":"nodesC"},"encoding":{"x":{"field":"d","type":"quantitative","scale":{"domain":[0,65],"range":[101,36]}},"y":{"field":"a","type":"quantitative","scale":{"domain":[0,95],"range":[424,803]}},"color":{"field":"k","type":"nominal","scale":{"domain":["g","r"],"range":["#7a7a7a","#ff6464"]}}},"layer":[
{"mark":{"type":"rule","strokeWidth":1.1},"encoding":{"y2":{"field":"b"}}},
{"mark":{"type":"rule","strokeWidth":1.1},"encoding":{"x2":{"field":"l"}}},
{"mark":{"type":"rule","strokeWidth":1.1},"encoding":{"x2":{"field":"r"},"y":{"field":"b","type":"quantitative"}}}
]},
{"mark":{"type":"rule","color":"#9fb0c8","strokeWidth":2.5},"encoding":{"x":{"value":37.3},"y":{"value":424},"y2":{"value":803}}},
{"data":{"name":"heatC"},"transform":[{"flatten":["v"]},{"window":[{"op":"row_number","as":"c"}],"groupby":["r"]}],"mark":{"type":"rect"},"encoding":{"x":{"field":"c","type":"ordinal","scale":{"type":"band","range":[102,206],"padding":0}},"y":{"field":"r","type":"ordinal","scale":{"type":"band","range":[424,803],"padding":0}},"color":{"field":"v","type":"quantitative","scale":{"domain":[-3,0,3],"range":["#1ab8ea","#000000","#ffff00"]}}}},
{"mark":{"type":"rule","color":"#666666","strokeWidth":1.6},"encoding":{"x":{"value":101},"y":{"value":424},"y2":{"value":803}}},
{"mark":{"type":"rule","color":"#a9a93f","strokeWidth":1},"encoding":{"x":{"value":102},"x2":{"value":206},"y":{"value":660}}},
{"mark":{"type":"rule","color":"#a9a93f","strokeWidth":1},"encoding":{"x":{"value":102},"x2":{"value":206},"y":{"value":759}}},
{"data":{"name":"nodesD"},"encoding":{"x":{"field":"d","type":"quantitative","scale":{"domain":[0,130],"range":[370,240]}},"y":{"field":"a","type":"quantitative","scale":{"domain":[0,18],"range":[461,657]}}},"layer":[
{"mark":{"type":"rule","strokeWidth":1.2,"color":"#707070"},"encoding":{"y2":{"field":"b"}}},
{"mark":{"type":"rule","strokeWidth":1.2,"color":"#707070"},"encoding":{"x2":{"field":"l"}}},
{"mark":{"type":"rule","strokeWidth":1.2,"color":"#707070"},"encoding":{"x2":{"field":"r"},"y":{"field":"b","type":"quantitative"}}}
]},
{"data":{"name":"heatD"},"transform":[{"flatten":["v"]},{"window":[{"op":"row_number","as":"c"}],"groupby":["r"]}],"mark":{"type":"rect"},"encoding":{
"x":{"field":"c","type":"ordinal","scale":{"type":"band","range":[370,682],"padding":0},"axis":{"disable":false,"orient":"top","offset":-461,"domain":false,"ticks":false,"labelAngle":270,"labelAlign":"left","labelBaseline":"middle","labelFont":"Liberation Mono","labelFontSize":10,"labelColor":"#222222","labelPadding":3,"labelOverlap":false,"labelExpr":"['MDA-T41','BCPAP','TPC1','CUTC6','CUTC48','T235','SW1736','K1','Cal62','BHT101','TT2609-C02','THJ21T','KTC1','8305C','CUTC5','OCUT-2','KHM5M','MDA-T32','ACT1','THJ29T','HTH104','TTA1','OCUT-1','T351','THJ16T','TCO1','HTH74','C643','HTH7','FTC133','T243','KTC2','T238','8505C'][datum.value-1]"}},
"y":{"field":"r","type":"nominal","sort":null,"scale":{"type":"band","range":[461,657],"padding":0,"domain":["GSK-3α-β pS21","AKT pS473","AKT pT308","Tuberin pT1462","MERIT40 pS29","NDRG1 pT346","P27 pT198","C-Jun pS73","MDM2 pS166","mTOR pS2448","p70S6K pT389","4EBP1 pS65","S6 pS235 S236","S6 pS240 S244","PRAS40 pT246","Rb pS807","p90RSK pT573","YB1 pS102"]},"axis":{"disable":false,"orient":"right","offset":-96,"domain":false,"ticks":false,"labelFont":"Lato","labelFontWeight":"bold","labelFontSize":9.5,"labelColor":"#222222","labelPadding":2,"labelOverlap":false}},
"color":{"field":"v","type":"quantitative","scale":{"domain":[-3,0,3],"range":["#1ab8ea","#000000","#ffff00"]}}}},
{"mark":{"type":"rect","fill":"#efefef","x":498,"x2":573,"y":673,"y2":710},"encoding":{}},
{"data":{"values":[{"label":"-0.25","level":-3},{"label":"-0.17","level":-2},{"label":"-0.08","level":-1},{"label":"0.00","level":0},{"label":"0.08","level":1},{"label":"0.17","level":2},{"label":"0.25","level":3}]},"encoding":{"x":{"field":"level","type":"ordinal","scale":{"type":"band","range":[498,570],"padding":0}}},"layer":[
{"mark":{"type":"rect"},"encoding":{"y":{"value":710},"y2":{"value":720},"color":{"field":"level","type":"quantitative","scale":{"domain":[-3,0,3],"range":["#1ab8ea","#000000","#ffff00"]}}}},
{"mark":{"type":"text","angle":270,"align":"left","baseline":"middle","font":"Liberation Mono","fontWeight":"normal","fontSize":10,"color":"#333333"},"encoding":{"y":{"value":709},"text":{"field":"label"}}}
]},
{"mark":{"type":"text","text":"Relative Expression","x":498,"y":728,"fontSize":8.3,"align":"left","color":"#000000"},"encoding":{}}
]}
